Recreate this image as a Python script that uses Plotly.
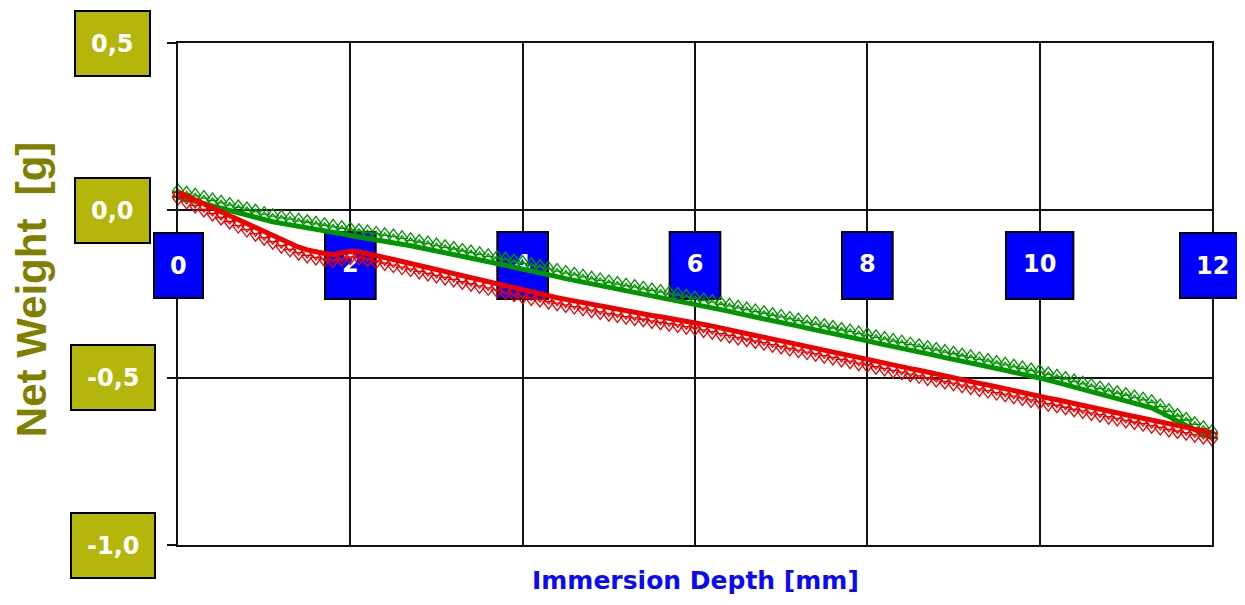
import plotly.graph_objects as go

# ---------------- data ----------------
depth = [0.0, 0.1, 0.2, 0.3, 0.4, 0.5, 0.6, 0.7, 0.8, 0.9,
         1.0, 1.1, 1.2, 1.3, 1.4, 1.5, 1.6, 1.7, 1.8, 1.9,
         2.0, 2.1, 2.2, 2.3, 2.4, 2.5, 2.6, 2.7, 2.8, 2.9,
         3.0, 3.1, 3.2, 3.3, 3.4, 3.5, 3.6, 3.7, 3.8, 3.9,
         4.0, 4.1, 4.2, 4.3, 4.4, 4.5, 4.6, 4.7, 4.8, 4.9,
         5.0, 5.1, 5.2, 5.3, 5.4, 5.5, 5.6, 5.7, 5.8, 5.9,
         6.0, 6.1, 6.2, 6.3, 6.4, 6.5, 6.6, 6.7, 6.8, 6.9,
         7.0, 7.1, 7.2, 7.3, 7.4, 7.5, 7.6, 7.7, 7.8, 7.9,
         8.0, 8.1, 8.2, 8.3, 8.4, 8.5, 8.6, 8.7, 8.8, 8.9,
         9.0, 9.1, 9.2, 9.3, 9.4, 9.5, 9.6, 9.7, 9.8, 9.9,
         10.0, 10.1, 10.2, 10.3, 10.4, 10.5, 10.6, 10.7, 10.8, 10.9,
         11.0, 11.1, 11.2, 11.3, 11.4, 11.5, 11.6, 11.7, 11.8, 11.9,
         12.0]

weight_green = [0.040, 0.033, 0.027, 0.020, 0.013, 0.006, -0.001, -0.008, -0.014, -0.021,
                -0.028, -0.034, -0.039, -0.043, -0.048, -0.052, -0.057, -0.061, -0.066, -0.070,
                -0.075, -0.079, -0.083, -0.087, -0.091, -0.095, -0.100, -0.106, -0.111, -0.116,
                -0.122, -0.127, -0.132, -0.138, -0.143, -0.148, -0.154, -0.159, -0.164, -0.170,
                -0.175, -0.181, -0.186, -0.192, -0.198, -0.204, -0.209, -0.215, -0.221, -0.226,
                -0.232, -0.237, -0.242, -0.246, -0.251, -0.256, -0.261, -0.266, -0.270, -0.275,
                -0.280, -0.286, -0.291, -0.297, -0.302, -0.308, -0.313, -0.319, -0.324, -0.330,
                -0.335, -0.341, -0.346, -0.352, -0.357, -0.363, -0.368, -0.374, -0.379, -0.385,
                -0.390, -0.396, -0.401, -0.407, -0.412, -0.418, -0.423, -0.429, -0.434, -0.440,
                -0.445, -0.451, -0.456, -0.462, -0.467, -0.473, -0.478, -0.484, -0.489, -0.495,
                -0.500, -0.507, -0.514, -0.521, -0.528, -0.535, -0.542, -0.549, -0.556, -0.563,
                -0.569, -0.576, -0.583, -0.590, -0.603, -0.617, -0.631, -0.643, -0.656, -0.668,
                -0.680]

weight_red = [0.055, 0.043, 0.031, 0.019, 0.007, -0.005, -0.017, -0.029, -0.041, -0.053,
              -0.065, -0.077, -0.089, -0.100, -0.110, -0.118, -0.124, -0.129, -0.132, -0.128,
              -0.123, -0.124, -0.129, -0.135, -0.141, -0.147, -0.153, -0.159, -0.166, -0.172,
              -0.178, -0.184, -0.190, -0.197, -0.203, -0.209, -0.215, -0.221, -0.228, -0.234,
              -0.240, -0.245, -0.250, -0.256, -0.261, -0.266, -0.271, -0.276, -0.282, -0.287,
              -0.292, -0.296, -0.301, -0.305, -0.309, -0.314, -0.318, -0.322, -0.326, -0.331,
              -0.335, -0.341, -0.346, -0.352, -0.357, -0.363, -0.368, -0.374, -0.379, -0.385,
              -0.390, -0.396, -0.401, -0.407, -0.412, -0.418, -0.423, -0.429, -0.434, -0.440,
              -0.445, -0.451, -0.456, -0.462, -0.467, -0.473, -0.478, -0.484, -0.489, -0.495,
              -0.500, -0.506, -0.511, -0.517, -0.522, -0.528, -0.533, -0.539, -0.544, -0.550,
              -0.555, -0.561, -0.566, -0.572, -0.578, -0.583, -0.589, -0.594, -0.600, -0.605,
              -0.611, -0.616, -0.621, -0.627, -0.632, -0.638, -0.643, -0.648, -0.654, -0.659,
              -0.665]

x_ticks = [0, 2, 4, 6, 8, 10, 12]
x_tick_labels = ["0", "2", "4", "6", "8", "10", "12"]
y_ticks = [0.5, 0.0, -0.5, -1.0]
y_tick_labels = ["0,5", "0,0", "-0,5", "-1,0"]

x_title = "Immersion Depth [mm]"
y_title = "Net Weight  [g]"

# ---------------- style ----------------
X_RANGE = [0, 12]
Y_RANGE = [-1.0, 0.5]
GREEN = "#009600"
RED = "#EE0000"
BLUE_BOX = "#0000FF"
OLIVE_BOX = "#B4B60C"
OLIVE_TEXT = "#808000"
GRID = "#111111"
BOX_FONT = dict(family="DejaVu Sans", size=24, color="white", weight="bold")
X_LABEL_Y = -0.165        # vertical position of the x tick-label boxes (axis units)
CHAR_W = 16.7             # approx. px width of one digit in BOX_FONT
BOX_PAD = 15
BOX_TEXT_H = 33
MARK_SIZE = 10
STANDOFFS = [3, 8]        # px: two stacked tiers of triangles on the outer side of each curve

fig = go.Figure()

# x tick labels inside the plot: text drawn beneath the data (boxes are 'between' shapes)
inner = [(v, lab) for v, lab in zip(x_ticks, x_tick_labels) if X_RANGE[0] < v < X_RANGE[1]]
edge = [(v, lab) for v, lab in zip(x_ticks, x_tick_labels) if not (X_RANGE[0] < v < X_RANGE[1])]

fig.add_trace(go.Scatter(
    x=[v for v, _ in inner], y=[X_LABEL_Y] * len(inner), mode="text",
    text=[lab for _, lab in inner], textposition="middle center",
    textfont=BOX_FONT, showlegend=False, hoverinfo="skip", cliponaxis=False))

series = [(weight_green, GREEN, 180), (weight_red, RED, 0)]
for values, color, ang in series:
    fig.add_trace(go.Scatter(
        x=depth, y=values, mode="lines", cliponaxis=False,
        line=dict(color=color, width=5), showlegend=False, hoverinfo="skip"))
    for so in STANDOFFS:
        fig.add_trace(go.Scatter(
            x=depth, y=values, mode="markers", cliponaxis=False,
            marker=dict(symbol="triangle-down-open", angle=ang, angleref="up", standoff=so,
                        size=MARK_SIZE, color=color, line=dict(width=1.3, color=color)),
            showlegend=False, hoverinfo="skip"))

shapes = []
annotations = []

half_h = (BOX_TEXT_H + 2 * BOX_PAD + 4) / 2
for v, lab in inner:
    half_w = (CHAR_W * len(lab) + 2 * BOX_PAD + 4) / 2
    shapes.append(dict(
        type="rect", layer="between", xref="x", yref="y",
        xsizemode="pixel", ysizemode="pixel",
        xanchor=v, yanchor=X_LABEL_Y,
        x0=-half_w, x1=half_w, y0=-half_h, y1=half_h,
        fillcolor=BLUE_BOX, line=dict(color="black", width=2)))

for v, lab in edge:
    annotations.append(dict(
        x=v, y=X_LABEL_Y, xref="x", yref="y", text=lab, showarrow=False,
        xanchor="center", yanchor="middle", font=BOX_FONT,
        bgcolor=BLUE_BOX, bordercolor="black", borderwidth=2,
        borderpad=BOX_PAD, height=BOX_TEXT_H))

# y tick labels: olive boxes
for v, lab in zip(y_ticks, y_tick_labels):
    annotations.append(dict(
        x=-0.063, y=v, xref="paper", yref="y", text=lab, showarrow=False,
        xanchor="center", yanchor="middle", font=BOX_FONT,
        bgcolor=OLIVE_BOX, bordercolor="black", borderwidth=2,
        borderpad=BOX_PAD, height=BOX_TEXT_H))

# axis titles
annotations.append(dict(
    x=0.5, y=-0.07, xref="paper", yref="paper", text=x_title, showarrow=False,
    xanchor="center", yanchor="middle",
    font=dict(family="DejaVu Sans", size=25, color="#0A0AF5", weight="bold")))
annotations.append(dict(
    x=-0.141, y=0.51, xref="paper", yref="paper", text=y_title, showarrow=False,
    xanchor="center", yanchor="middle", textangle=-90,
    font=dict(family="Liberation Sans", size=42, color=OLIVE_TEXT, weight="bold")))

fig.update_layout(
    width=1237, height=597,
    margin=dict(l=170, r=33, t=35, b=60),
    paper_bgcolor="white", plot_bgcolor="white",
    shapes=shapes, annotations=annotations,
    xaxis=dict(range=X_RANGE, tickvals=x_ticks, showticklabels=False, ticks="",
               showgrid=True, gridcolor=GRID, gridwidth=1.5, zeroline=False,
               showline=True, linecolor=GRID, linewidth=1.5, mirror=True),
    yaxis=dict(range=Y_RANGE, tickvals=y_ticks, showticklabels=False,
               ticks="outside", ticklen=9, tickwidth=1.5, tickcolor=GRID,
               showgrid=True, gridcolor=GRID, gridwidth=1.5, zeroline=False,
               showline=True, linecolor=GRID, linewidth=1.5, mirror=True),
)

fig.write_html("out.html")
